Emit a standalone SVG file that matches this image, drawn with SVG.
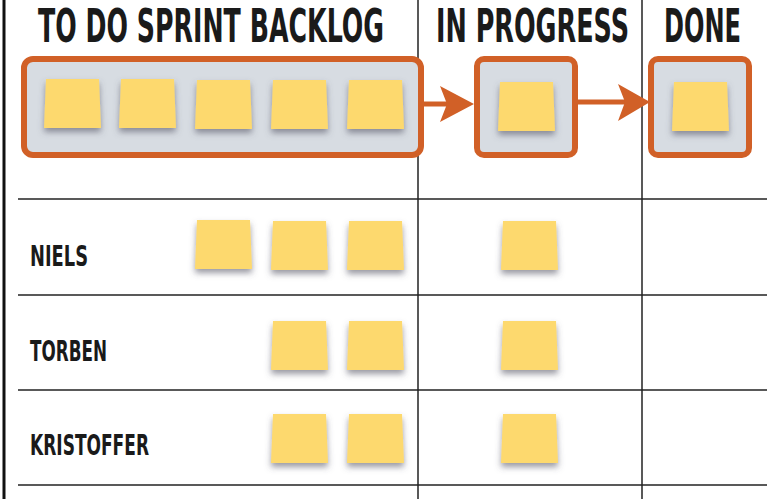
<svg xmlns="http://www.w3.org/2000/svg" width="767" height="499" viewBox="0 0 767 499">
<defs>
<filter id="sh" x="-30%" y="-30%" width="160%" height="170%"><feDropShadow dx="0" dy="4" stdDeviation="3" flood-color="#556" flood-opacity="0.6"/></filter>
<polygon id="note" points="2,0 55,0 57,49 0,49" fill="#fdd96e" filter="url(#sh)"/>
</defs>
<style>
.h{font-family:"DejaVu Sans Condensed","Liberation Sans",sans-serif;font-weight:bold;font-stretch:condensed;fill:#1a1a1a}
.box{fill:#d7dce2;stroke:#d16027;stroke-width:6}
.grid{stroke:#222;stroke-width:1.5}
.arr{stroke:#d16027;stroke-width:5;fill:none}
</style>
<rect width="767" height="499" fill="#fff"/>
<g id="grid">
<line x1="4" y1="0" x2="4" y2="499" stroke="#111" stroke-width="3"/>
<line class="grid" x1="418" y1="0" x2="418" y2="499"/>
<line class="grid" x1="642" y1="0" x2="642" y2="499"/>
<line class="grid" x1="18" y1="199" x2="767" y2="199"/>
<line class="grid" x1="18" y1="295" x2="767" y2="295"/>
<line class="grid" x1="18" y1="390" x2="767" y2="390"/>
<line class="grid" x1="18" y1="485" x2="767" y2="485"/>
</g>
<g id="headers">
<text class="h" x="38" y="42" font-size="47" textLength="346" lengthAdjust="spacingAndGlyphs">TO DO SPRINT BACKLOG</text>
<text class="h" x="436" y="42" font-size="47" textLength="193" lengthAdjust="spacingAndGlyphs">IN PROGRESS</text>
<text class="h" x="664" y="42" font-size="47" textLength="77" lengthAdjust="spacingAndGlyphs">DONE</text>
</g>
<g id="backlog"><rect class="box" x="24" y="59" width="397" height="96" rx="9"/>
<use href="#note" x="44" y="79"/><use href="#note" x="119" y="79"/><use href="#note" x="195" y="80"/><use href="#note" x="271" y="80"/><use href="#note" x="347" y="80"/></g>
<g id="inprogress"><rect class="box" x="477" y="59" width="98" height="96" rx="7"/><use href="#note" x="498" y="82"/></g>
<g id="done"><rect class="box" x="651" y="59" width="98" height="96" rx="7"/><use href="#note" x="672" y="82"/></g>
<g id="connectors">
<line class="arr" x1="424" y1="104" x2="450" y2="104"/><polygon points="440,86 474,104 440,122 447,104" fill="#d16027"/>
<line class="arr" x1="576" y1="102" x2="625" y2="102"/><polygon points="618,84 650,102 618,121 625,102" fill="#d16027"/>
</g>
<g id="niels"><text class="h" x="30" y="266" font-size="29" textLength="58" lengthAdjust="spacingAndGlyphs">NIELS</text>
<use href="#note" x="195" y="220"/><use href="#note" x="271" y="221"/><use href="#note" x="347" y="221"/><use href="#note" x="501" y="221"/></g>
<g id="torben"><text class="h" x="30" y="361" font-size="29" textLength="77" lengthAdjust="spacingAndGlyphs">TORBEN</text>
<use href="#note" x="271" y="321"/><use href="#note" x="347" y="321"/><use href="#note" x="501" y="321"/></g>
<g id="kristoffer"><text class="h" x="30" y="455" font-size="29" textLength="119" lengthAdjust="spacingAndGlyphs">KRISTOFFER</text>
<use href="#note" x="271" y="414"/><use href="#note" x="347" y="414"/><use href="#note" x="501" y="414"/></g>
</svg>
